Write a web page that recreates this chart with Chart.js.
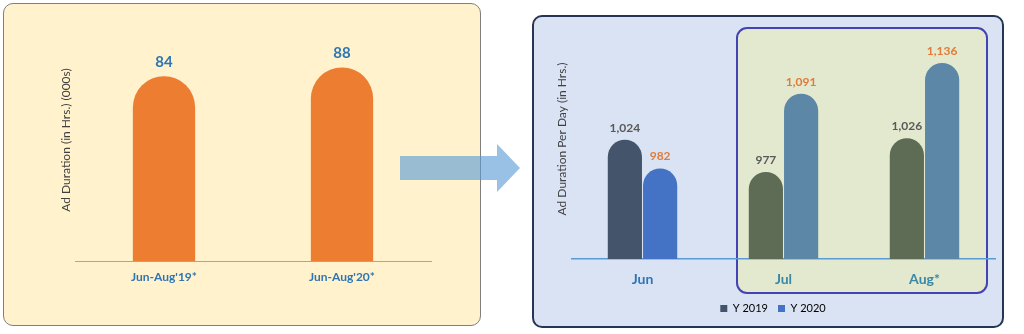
<!DOCTYPE html>
<html>
<head>
<meta charset="utf-8">
<script src="https://cdn.jsdelivr.net/npm/chart.js@4.4.1/dist/chart.umd.min.js"></script>
<style>
  html, body { margin: 0; padding: 0; background: #ffffff; }
  #stage { position: relative; width: 1024px; height: 334px; overflow: hidden; font-family: Lato, "Open Sans", sans-serif; }
  .panel { position: absolute; box-sizing: border-box; }
  #leftPanel { left: 3px; top: 3px; width: 478px; height: 323px; background: #fff2cc; border: 1px solid #7f7f7f; border-radius: 10px; }
  #rightPanel { left: 532px; top: 15px; width: 472px; height: 313px; background: #dae3f3; border: 2px solid #263553; border-radius: 10px; }
  #hiPanel { left: 736px; top: 27px; width: 252px; height: 267px; background: #e2e9cf; border: 2px solid #4343b5; border-radius: 11px; }
  canvas { position: absolute; }
  #leftChart { left: 0; top: 0; }
  #rightChart { left: 520px; top: 0; }
  #arrow { position: absolute; left: 0; top: 0; }
</style>
</head>
<body>
<div id="stage">
  <div class="panel" id="leftPanel"></div>
  <div class="panel" id="rightPanel"></div>
  <div class="panel" id="hiPanel"></div>
  <canvas id="leftChart" width="480" height="334"></canvas>
  <canvas id="rightChart" width="504" height="334"></canvas>
  <svg id="arrow" width="1024" height="334">
    <polygon points="400,156 497,156 497,144 520,168 497,192 497,180 400,180" fill="#5b9bd5" fill-opacity="0.62"></polygon>
  </svg>
</div>
<script>
// ---- data ----
const leftCategories = ["Jun-Aug'19*", "Jun-Aug'20*"];
const leftValues = [84, 88];
const rightCategories = ["Jun", "Jul", "Aug*"];
const seriesNames = ["Y 2019", "Y 2020"];
const values2019 = [1024, 977, 1026];
const values2020 = [982, 1091, 1136];

// ---- styles ----
const FONT = "Lato, 'Open Sans', sans-serif";
const colors2019 = ["#44546a", "#5e6b55", "#5e6b55"];
const colors2020 = ["#4472c4", "#5c87a6", "#5c87a6"];
const rightTickColors = ["#2e75b6", "#3a87a6", "#3a87a6"];

const valueLabelPlugin = {
  id: 'valueLabels',
  afterDatasetsDraw(chart, args, opts) {
    const ctx = chart.ctx;
    ctx.save();
    chart.data.datasets.forEach((ds, di) => {
      const meta = chart.getDatasetMeta(di);
      meta.data.forEach((el, i) => {
        const v = ds.data[i];
        ctx.font = 'bold ' + opts.size + 'px ' + FONT;
        ctx.fillStyle = Array.isArray(opts.colors[di]) ? opts.colors[di][i] : opts.colors[di];
        ctx.textAlign = 'center';
        ctx.textBaseline = 'middle';
        ctx.fillText(v.toLocaleString('en-US'), el.x, el.y - opts.offset);
      });
    });
    ctx.restore();
  }
};

const roundTop = { topLeft: 200, topRight: 200, bottomLeft: 0, bottomRight: 0 };

new Chart(document.getElementById('leftChart'), {
  type: 'bar',
  data: {
    labels: leftCategories,
    datasets: [{
      data: leftValues,
      backgroundColor: '#ed7d31',
      borderWidth: 0,
      borderSkipped: false,
      borderRadius: roundTop,
      barPercentage: 0.35,
      categoryPercentage: 1.0
    }]
  },
  options: {
    responsive: false,
    animation: false,
    layout: { padding: { left: 55, right: 49, top: 19, bottom: 49 } },
    plugins: {
      legend: { display: false },
      tooltip: { enabled: false },
      valueLabels: { size: 15, offset: 14, colors: ['#2e75b6'] }
    },
    scales: {
      x: {
        grid: { display: false, drawTicks: false },
        border: { display: true, color: '#a6a6a6', width: 1 },
        ticks: { padding: 9, color: '#2e75b6', font: { family: FONT, size: 12, weight: 'bold' } },
        afterFit(scale) { scale.height = 24; }
      },
      y: {
        min: 0, max: 110,
        grid: { display: false, drawTicks: false },
        border: { display: false },
        ticks: { display: false },
        title: { display: true, text: 'Ad Duration (in Hrs.) (000s)', color: '#404040', font: { family: FONT, size: 12 }, padding: { top: 4, bottom: 4 } },
        afterFit(scale) { scale.width = 20; }
      }
    }
  },
  plugins: [valueLabelPlugin]
});

new Chart(document.getElementById('rightChart'), {
  type: 'bar',
  data: {
    labels: rightCategories,
    datasets: [
      { label: seriesNames[0], data: values2019, backgroundColor: colors2019, borderWidth: 0, borderSkipped: false, borderRadius: roundTop, barPercentage: 0.97, categoryPercentage: 0.5 },
      { label: seriesNames[1], data: values2020, backgroundColor: colors2020, borderWidth: 0, borderSkipped: false, borderRadius: roundTop, barPercentage: 0.97, categoryPercentage: 0.5 }
    ]
  },
  options: {
    responsive: false,
    animation: false,
    layout: { padding: { left: 31, right: 29, top: 19, bottom: 10 } },
    plugins: {
      legend: {
        display: true,
        position: 'bottom',
        labels: {
          boxWidth: 7, boxHeight: 7, padding: 10, color: '#595959',
          font: { family: FONT, size: 11 },
          generateLabels(chart) {
            return [
              { text: seriesNames[0], fillStyle: '#44546a', strokeStyle: '#44546a', lineWidth: 0, hidden: false, datasetIndex: 0 },
              { text: seriesNames[1], fillStyle: '#4472c4', strokeStyle: '#4472c4', lineWidth: 0, hidden: false, datasetIndex: 1 }
            ];
          }
        }
      },
      tooltip: { enabled: false },
      valueLabels: { size: 12, offset: 12, colors: ['#595959', '#e07b39'] }
    },
    scales: {
      x: {
        grid: { display: false, drawTicks: false },
        border: { display: true, color: '#5b9bd5', width: 1.5 },
        ticks: { padding: 12, color: (c) => rightTickColors[c.index], font: { family: FONT, size: 14, weight: 'bold' } },
        afterFit(scale) { scale.height = 34; }
      },
      y: {
        min: 850, max: 1200, beginAtZero: false,
        grid: { display: false, drawTicks: false },
        border: { display: false },
        ticks: { display: false },
        title: { display: true, text: 'Ad Duration Per Day (in Hrs.)', color: '#404040', font: { family: FONT, size: 12 }, padding: { top: 4, bottom: 4 } },
        afterFit(scale) { scale.width = 21; }
      }
    }
  },
  plugins: [valueLabelPlugin]
});
</script>
</body>
</html>
